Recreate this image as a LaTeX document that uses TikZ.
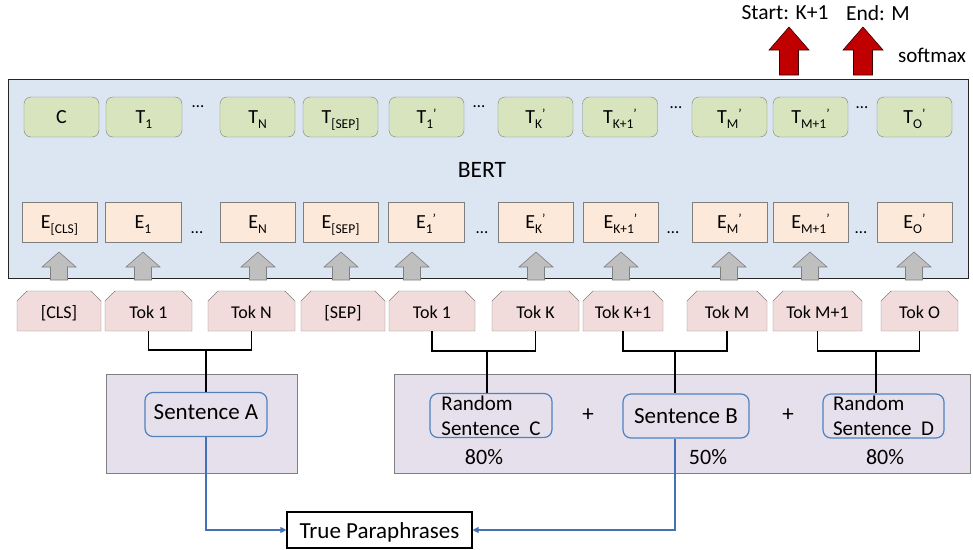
\documentclass[tikz,border=0pt]{standalone}
\usepackage{fontspec}
\setmainfont{Carlito}
\usetikzlibrary{shapes.misc,arrows.meta}
\definecolor{panelc}{HTML}{DCE6F2}
\definecolor{tgreen}{HTML}{D7E4BD}
\definecolor{epeach}{HTML}{FDE9D9}
\definecolor{tokpink}{HTML}{F2DCDB}
\definecolor{purp}{HTML}{E6E0EC}
\definecolor{sblue}{HTML}{4F81BD}
\definecolor{lblue}{HTML}{4372B8}
\definecolor{bgray}{HTML}{7F7F7F}
\definecolor{agray}{HTML}{BFBFBF}
\definecolor{darkred}{HTML}{C00000}
\newcommand{\fsz}[1]{\fontsize{#1}{#1}\selectfont}
\newcommand{\sbs}[1]{\raisebox{-0.55ex}{\fsz{13.5}#1}}
\newcommand{\prm}{\raisebox{0.55ex}{\fsz{13.5}’}}
\tikzset{
  tbox/.style={draw=bgray, fill=tgreen, rounded corners=7pt, minimum width=75pt, minimum height=40pt, inner sep=0pt, text height=13pt, text depth=0pt, font=\fsz{20}},
  ebox/.style={draw=bgray, fill=epeach, minimum width=75pt, minimum height=40pt, inner sep=0pt, text height=13pt, text depth=0pt, font=\fsz{20}},
  tokbox/.style={draw=bgray, fill=tokpink, chamfered rectangle, chamfered rectangle corners={north west,north east}, chamfered rectangle xsep=5pt, chamfered rectangle ysep=5pt, minimum height=40pt, inner sep=0pt, text height=14pt, text depth=0pt, font=\fsz{18}},
  purpbox/.style={draw=bgray, fill=purp, line width=0.8pt},
  sentbox/.style={draw=sblue, line width=1.2pt, rounded corners=8pt, minimum height=44pt, inner sep=0pt},
  dotsn/.style={font=\fsz{17}, inner sep=0pt},
  conn/.style={draw=black, line width=1.4pt},
  bconn/.style={draw=lblue, line width=1.1pt, -{Triangle[length=6pt,width=6pt]}},
  grayarr/.pic={\path[fill=agray, draw=bgray, line width=0.6pt] (-8.5,0) -- (-8.5,-13) -- (-17,-13) -- (0,-28) -- (17,-13) -- (8.5,-13) -- (8.5,0) -- cycle;},
  redarr/.pic={\path[fill=darkred, draw=black!70!darkred, line width=0.6pt] (-9.5,0) -- (-9.5,-25) -- (-20,-25) -- (0,-48) -- (20,-25) -- (9.5,-25) -- (9.5,0) -- cycle;}
}
\begin{document}
\begin{tikzpicture}[x=1pt,y=-1pt]
\useasboundingbox (0,0) rectangle (973,549);
% BERT panel
\node[draw=black!85, fill=panelc, line width=0.9pt, minimum width=960pt, minimum height=199pt, inner sep=0pt] (panel) at (488,178.5) {};
\node[font=\fsz{23.5}] (bert) at (482,170) {BERT};
% T row
\node[tbox] (tC) at (61.5,117) {C};
\node[tbox, minimum width=76pt] (tT1) at (144,117) {T\sbs{1}};
\node[tbox] (tTN) at (257.5,117) {T\sbs{N}};
\node[tbox] (tTS) at (340.5,117) {T\sbs{[SEP]}};
\node[tbox] (tT1p) at (426.5,117) {T\sbs{1}\prm};
\node[tbox] (tTK) at (535.5,117) {T\sbs{K}\prm};
\node[tbox] (tTK1) at (620,117) {T\sbs{K+1}\prm};
\node[tbox] (tTM) at (729.5,117) {T\sbs{M}\prm};
\node[tbox] (tTM1) at (810.5,117) {T\sbs{M+1}\prm};
\node[tbox] (tTO) at (914.5,117) {T\sbs{O}\prm};
\node[dotsn] (td1) at (198,107) {…};
\node[dotsn] (td2) at (479,107) {…};
\node[dotsn] (td3) at (676,108) {…};
\node[dotsn] (td4) at (862,108) {…};
% E row
\node[ebox] (eC) at (59.5,222) {E\sbs{[CLS]}};
\node[ebox, minimum width=76pt] (eE1) at (143,222) {E\sbs{1}};
\node[ebox] (eEN) at (257.5,222) {E\sbs{N}};
\node[ebox] (eES) at (340.5,222) {E\sbs{[SEP]}};
\node[ebox, minimum width=76pt] (eE1p) at (426,222) {E\sbs{1}\prm};
\node[ebox] (eEK) at (535.5,222) {E\sbs{K}\prm};
\node[ebox] (eEK1) at (620.5,222) {E\sbs{K+1}\prm};
\node[ebox] (eEM) at (729.5,222) {E\sbs{M}\prm};
\node[ebox] (eEM1) at (810.5,222) {E\sbs{M+1}\prm};
\node[ebox] (eEO) at (914.5,222) {E\sbs{O}\prm};
\node[dotsn] (ed1) at (197,233) {…};
\node[dotsn] (ed2) at (482,233) {…};
\node[dotsn] (ed3) at (673,233) {…};
\node[dotsn] (ed4) at (861,233) {…};
% gray arrows
\foreach \ax in {59,143,258,341,412,536,621,729,810,914}{
  \pic at (\ax,280) {grayarr};
}
% tokens
\node[tokbox, minimum width=84pt] (kCLS) at (59,311) {[CLS]};
\node[tokbox, minimum width=87pt] (k1) at (148.5,311) {Tok 1};
\node[tokbox, minimum width=87pt] (kN) at (251.5,311) {Tok N};
\node[tokbox, minimum width=84pt] (kSEP) at (343,311) {[SEP]};
\node[tokbox, minimum width=86pt] (k1p) at (432,311) {Tok 1};
\node[tokbox, minimum width=87pt] (kK) at (535.5,311) {Tok K};
\node[tokbox, minimum width=80pt] (kK1) at (623,311) {Tok K+1};
\node[tokbox, minimum width=80pt] (kM) at (727,311) {Tok M};
\node[tokbox, minimum width=89pt] (kM1) at (817.5,311) {Tok M+1};
\node[tokbox, minimum width=77pt] (kO) at (919.5,311) {Tok O};
% purple boxes
\node[purpbox, minimum width=191pt, minimum height=99pt, inner sep=0pt] (pA) at (201.5,423.5) {};
\node[purpbox, minimum width=576pt, minimum height=99pt, inner sep=0pt] (pB) at (682,423.5) {};
% sentence boxes
\node[sentbox, minimum width=122pt, text height=16pt, text depth=7pt, font=\fsz{23}] (sA) at (206,414.5) {Sentence A};
\node[sentbox, minimum width=122pt, align=left, font=\fsz{21}] (rC) at (491,415.5) {Random\\[4pt]Sentence~~C};
\node[sentbox, minimum width=126pt, text height=16pt, text depth=2pt, font=\fsz{23}] (sB) at (686,416) {Sentence B};
\node[sentbox, minimum width=121pt, align=left, font=\fsz{21}] (rD) at (883.5,416) {Random\\[4pt]Sentence~~D};
\node[font=\fsz{23}] (plus1) at (588,415) {+};
\node[font=\fsz{23}] (plus2) at (788,415) {+};
\node[font=\fsz{22}, anchor=base] (pcC) at (484,464) {80\%};
\node[font=\fsz{22}, anchor=base] (pcB) at (708,464) {50\%};
\node[font=\fsz{22}, anchor=base] (pcD) at (885,464) {80\%};
% true paraphrases
\node[draw=black, fill=white, line width=1.2pt, minimum width=185pt, minimum height=36pt, inner sep=0pt, text height=16pt, text depth=0pt, font=\fsz{23}] (tp) at (379.5,530) {True Paraphrases};
% connectors
\coordinate (jA) at (206,350);
\coordinate (jC) at (487,351);
\coordinate (jB) at (675,351);
\coordinate (jD) at (876,351);
\draw[conn] (k1.south) |- (jA) -| (kN.south);
\draw[conn] (jA) -- (sA.north);
\draw[conn] (k1p.south) |- (jC) -| (kK.south);
\draw[conn] (jC) -- (jC |- rC.north);
\draw[conn] (kK1.south) |- (jB) -| (kM.south);
\draw[conn] (jB) -- (jB |- sB.north);
\draw[conn] (kM1.south) |- (jD) -| (kO.south);
\draw[conn] (jD) -- (jD |- rD.north);
\draw[bconn] (sA.south) |- (tp.west);
\draw[bconn] (jB |- sB.south) |- (tp.east);
% top
\node[font=\fsz{21.5}] (start) at (785,13) {Start: K+1};
\node[font=\fsz{21.5}] (endl) at (878,13) {End: M};
\pic at (789,75) {redarr};
\pic at (863,75) {redarr};
\node[font=\fsz{21}] (smax) at (932,55) {softmax};
\end{tikzpicture}
\end{document}
